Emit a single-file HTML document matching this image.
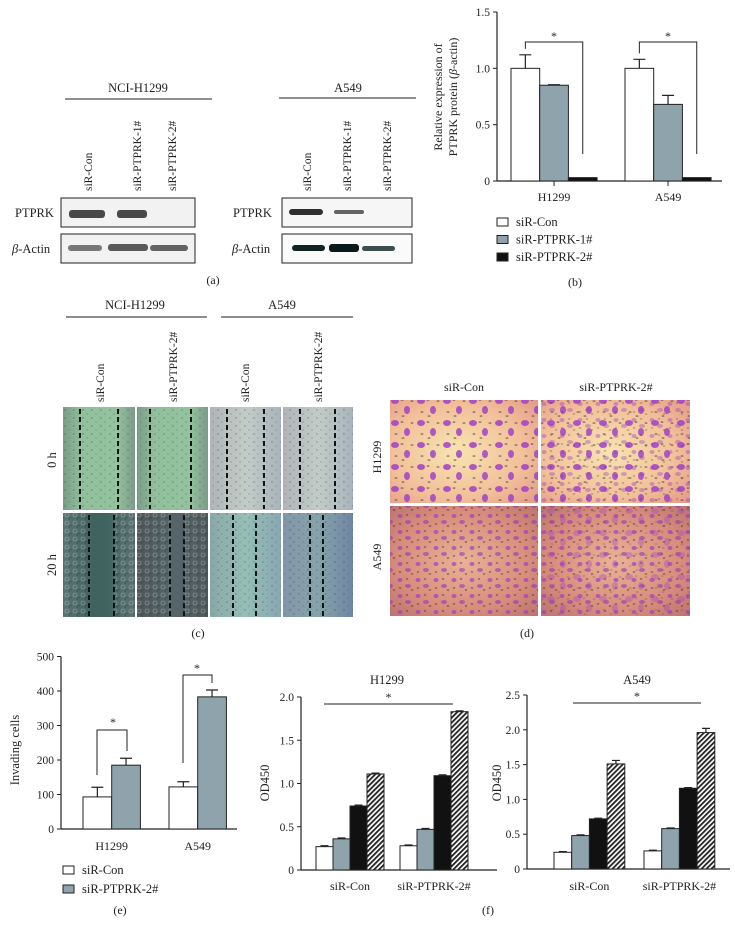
<!DOCTYPE html>
<html><head><meta charset="utf-8"><style>
html,body{margin:0;padding:0;background:#fff;}
svg{display:block;font-family:"Liberation Serif",serif;}
text{fill:#222;}
</style></head><body>
<svg id="fig" width="735" height="937" viewBox="0 0 735 937" xmlns="http://www.w3.org/2000/svg">
<defs>
<pattern id="hatch" patternUnits="userSpaceOnUse" width="3.5" height="3.5" patternTransform="rotate(45)">
<rect width="3.5" height="3.5" fill="#fff"/><rect width="1.8" height="3.5" fill="#222"/></pattern>
<linearGradient id="g-green" x1="0" x2="1"><stop offset="0" stop-color="#7a9c88"/><stop offset=".25" stop-color="#90c09c"/><stop offset=".75" stop-color="#92c29e"/><stop offset="1" stop-color="#7c9c8a"/></linearGradient>
<linearGradient id="g-gray" x1="0" x2="1"><stop offset="0" stop-color="#b0b4b8"/><stop offset=".5" stop-color="#c2ccc6"/><stop offset="1" stop-color="#a8b4bc"/></linearGradient>
<linearGradient id="g-dark1" x1="0" x2="1"><stop offset="0" stop-color="#5d7474"/><stop offset=".4" stop-color="#3f6460"/><stop offset=".6" stop-color="#3f6460"/><stop offset="1" stop-color="#5d7474"/></linearGradient>
<linearGradient id="g-dark2" x1="0" x2="1"><stop offset="0" stop-color="#4e5658"/><stop offset=".5" stop-color="#55666a"/><stop offset="1" stop-color="#4f595c"/></linearGradient>
<linearGradient id="g-teal" x1="0" x2="1"><stop offset="0" stop-color="#8aa8a8"/><stop offset=".5" stop-color="#95beb6"/><stop offset="1" stop-color="#88a8b4"/></linearGradient>
<linearGradient id="g-blue" x1="0" x2="1"><stop offset="0" stop-color="#8296a8"/><stop offset=".5" stop-color="#86a4aa"/><stop offset="1" stop-color="#6f86a4"/></linearGradient>
<radialGradient id="g-yel" cx=".45" cy=".5" r=".75"><stop offset="0" stop-color="#f8e4b0"/><stop offset=".6" stop-color="#f2c09a"/><stop offset="1" stop-color="#e49886"/></radialGradient>
<radialGradient id="g-org" cx=".5" cy=".5" r=".75"><stop offset="0" stop-color="#eab296"/><stop offset=".6" stop-color="#d88c7c"/><stop offset="1" stop-color="#b86e6c"/></radialGradient>
<pattern id="cells" patternUnits="userSpaceOnUse" width="26" height="22">
<ellipse cx="5" cy="5" rx="4" ry="3" fill="#a040c8" opacity=".85"/><ellipse cx="17" cy="14" rx="3" ry="4" fill="#9a3cc8" opacity=".8"/>
<ellipse cx="12" cy="4" rx="1.5" ry=".8" fill="#333" opacity=".6"/><ellipse cx="22" cy="5" rx="1.5" ry=".8" fill="#333" opacity=".6"/><ellipse cx="6" cy="16" rx="1.5" ry=".8" fill="#333" opacity=".6"/><ellipse cx="13" cy="20" rx="1.5" ry=".8" fill="#333" opacity=".6"/></pattern>
<pattern id="cells2" patternUnits="userSpaceOnUse" width="18" height="16">
<ellipse cx="4" cy="4" rx="2.5" ry="2" fill="#9a40c0" opacity=".7"/><ellipse cx="12" cy="10" rx="3" ry="2" fill="#8c3cb8" opacity=".6"/>
<ellipse cx="11" cy="3" rx="1.3" ry=".7" fill="#333" opacity=".6"/><ellipse cx="4" cy="12" rx="1.3" ry=".7" fill="#333" opacity=".6"/><ellipse cx="16" cy="14" rx="1.3" ry=".7" fill="#333" opacity=".6"/></pattern>
<pattern id="specks" patternUnits="userSpaceOnUse" width="9" height="8">
<circle cx="2" cy="2" r=".7" fill="#334" opacity=".5"/><circle cx="6" cy="6" r=".6" fill="#334" opacity=".4"/></pattern>
<pattern id="crowd" patternUnits="userSpaceOnUse" width="8" height="8">
<circle cx="3" cy="3" r="2" fill="none" stroke="#c8d4d0" stroke-width=".6" opacity=".6"/><circle cx="7" cy="7" r="1.5" fill="none" stroke="#223" stroke-width=".6" opacity=".5"/></pattern>
</defs>

<!-- Panel a -->
<g font-size="11.5">
<text x="138" y="92" text-anchor="middle" font-size="12.5">NCI-H1299</text>
<line x1="65" y1="99" x2="212" y2="99" stroke="#222"/>
<text x="348" y="92" text-anchor="middle" font-size="12.5">A549</text>
<line x1="279" y1="98" x2="416" y2="98" stroke="#222"/>
<text transform="translate(92,191) rotate(-90)">siR-Con</text>
<text transform="translate(141,191) rotate(-90)">siR-PTPRK-1#</text>
<text transform="translate(176,191) rotate(-90)">siR-PTPRK-2#</text>
<text transform="translate(311,191) rotate(-90)">siR-Con</text>
<text transform="translate(351,191) rotate(-90)">siR-PTPRK-1#</text>
<text transform="translate(391,191) rotate(-90)">siR-PTPRK-2#</text>
<text x="15" y="217" font-size="12.5">PTPRK</text>
<text x="12" y="253" font-size="12.5"><tspan font-style="italic">β</tspan>-Actin</text>
<text x="233" y="217" font-size="12.5">PTPRK</text>
<text x="232" y="253" font-size="12.5"><tspan font-style="italic">β</tspan>-Actin</text>
<g><rect x="61" y="198" width="134" height="29" fill="#f2f2f2" stroke="#222"/>
<rect x="69" y="210" width="36" height="8" rx="3" fill="#2a2a2a" opacity=".85"/><rect x="117" y="210" width="30" height="8" rx="3" fill="#2a2a2a" opacity=".85"/></g>
<g><rect x="61" y="234" width="134" height="29" fill="#f2f2f2" stroke="#222"/>
<rect x="68" y="245" width="34" height="6" rx="3" fill="#444" opacity=".7"/><rect x="108" y="244" width="40" height="7" rx="3" fill="#333" opacity=".8"/><rect x="150" y="245" width="38" height="6" rx="3" fill="#333" opacity=".75"/></g>
<g><rect x="282" y="198" width="130" height="29" fill="#f6f6f6" stroke="#222"/>
<rect x="289" y="209" width="34" height="6" rx="3" fill="#1a1a1a" opacity=".9"/><rect x="334" y="210" width="30" height="4" rx="2" fill="#333" opacity=".75"/></g>
<g><rect x="282" y="234" width="130" height="29" fill="#fafafa" stroke="#222"/>
<rect x="292" y="245" width="33" height="6" rx="3" fill="#102424"/><rect x="329" y="244" width="30" height="8" rx="3" fill="#0a1a1a"/><rect x="362" y="246" width="33" height="5" rx="2.5" fill="#1a3030" opacity=".85"/></g>
<text x="213" y="284" text-anchor="middle" font-size="12">(a)</text>
</g>

<!-- Panel b -->
<g id="pb" font-size="11">
<text transform="translate(442,97) rotate(-90)" text-anchor="middle" font-size="12">Relative expression of</text>
<text transform="translate(457,97) rotate(-90)" text-anchor="middle" font-size="12">PTPRK protein (<tspan font-style="italic">β</tspan>-actin)</text>
<text x="575" y="286" text-anchor="middle" font-size="12">(b)</text>
</g>

<!-- Panel c -->
<g font-size="11.5">
<text x="135" y="309" text-anchor="middle" font-size="12.5">NCI-H1299</text>
<line x1="66" y1="317" x2="207" y2="317" stroke="#666" stroke-width="1.5"/>
<text x="282" y="309" text-anchor="middle" font-size="12.5">A549</text>
<line x1="221" y1="317" x2="353" y2="317" stroke="#666" stroke-width="1.5"/>
<text transform="translate(104,402) rotate(-90)">siR-Con</text>
<text transform="translate(177,402) rotate(-90)">siR-PTPRK-2#</text>
<text transform="translate(249,402) rotate(-90)">siR-Con</text>
<text transform="translate(322,402) rotate(-90)">siR-PTPRK-2#</text>
<text transform="translate(56,460) rotate(-90)" text-anchor="middle" font-size="12.5">0 h</text>
<text transform="translate(56,565) rotate(-90)" text-anchor="middle" font-size="12.5">20 h</text>
<g><rect x="63" y="407" width="72" height="103" fill="url(#g-green)"/><rect x="63" y="407" width="72" height="103" fill="url(#specks)"/></g>
<g><rect x="137" y="407" width="71" height="103" fill="url(#g-green)"/><rect x="137" y="407" width="71" height="103" fill="url(#specks)"/></g>
<g><rect x="210" y="407" width="71" height="103" fill="url(#g-gray)"/><rect x="210" y="407" width="71" height="103" fill="url(#specks)"/></g>
<g><rect x="283" y="407" width="70" height="103" fill="url(#g-gray)"/><rect x="283" y="407" width="70" height="103" fill="url(#specks)"/></g>
<g><rect x="63" y="513" width="72" height="104" fill="url(#g-dark1)"/><rect x="63" y="513" width="26" height="104" fill="url(#crowd)"/><rect x="114" y="513" width="21" height="104" fill="url(#crowd)"/></g>
<g><rect x="137" y="513" width="71" height="104" fill="url(#g-dark2)"/><rect x="137" y="513" width="33" height="104" fill="url(#crowd)"/><rect x="184" y="513" width="24" height="104" fill="url(#crowd)"/></g>
<g><rect x="210" y="513" width="71" height="104" fill="url(#g-teal)"/><rect x="210" y="513" width="71" height="104" fill="url(#specks)"/></g>
<g><rect x="283" y="513" width="70" height="104" fill="url(#g-blue)"/><rect x="283" y="513" width="70" height="104" fill="url(#specks)"/></g>
<g stroke="#111" stroke-width="2" stroke-dasharray="5,3">
<line x1="80" y1="409" x2="80" y2="509"/><line x1="118" y1="409" x2="118" y2="509"/>
<line x1="150" y1="409" x2="150" y2="509"/><line x1="191" y1="409" x2="191" y2="509"/>
<line x1="227" y1="409" x2="227" y2="509"/><line x1="264" y1="409" x2="264" y2="509"/>
<line x1="300" y1="409" x2="300" y2="509"/><line x1="335" y1="409" x2="335" y2="509"/>
<line x1="89" y1="515" x2="89" y2="616"/><line x1="114" y1="515" x2="114" y2="616"/>
<line x1="170" y1="515" x2="170" y2="616"/><line x1="184" y1="515" x2="184" y2="616"/>
<line x1="233" y1="515" x2="233" y2="616"/><line x1="256" y1="515" x2="256" y2="616"/>
<line x1="310" y1="515" x2="310" y2="616"/><line x1="323" y1="515" x2="323" y2="616"/></g>
<text x="198" y="637" text-anchor="middle" font-size="12">(c)</text>
</g>

<!-- Panel d -->
<g font-size="12">
<text x="464" y="391" text-anchor="middle">siR-Con</text>
<text x="616" y="391" text-anchor="middle">siR-PTPRK-2#</text>
<text transform="translate(381,457) rotate(-90)" text-anchor="middle">H1299</text>
<text transform="translate(381,557) rotate(-90)" text-anchor="middle">A549</text>
<g><rect x="390" y="400" width="148" height="103" fill="url(#g-yel)"/><rect x="390" y="400" width="148" height="103" fill="url(#cells)"/></g>
<g><rect x="541" y="400" width="149" height="103" fill="url(#g-yel)"/><rect x="541" y="400" width="149" height="103" fill="url(#cells)"/><rect x="541" y="400" width="149" height="103" fill="url(#cells2)" opacity=".6"/></g>
<g><rect x="390" y="506" width="148" height="110" fill="url(#g-org)"/><rect x="390" y="506" width="148" height="110" fill="url(#cells2)"/></g>
<g><rect x="541" y="506" width="149" height="110" fill="url(#g-org)"/><rect x="541" y="506" width="149" height="110" fill="url(#cells2)"/><rect x="541" y="506" width="149" height="110" fill="url(#cells)" opacity=".4"/></g>
<text x="527" y="637" text-anchor="middle" font-size="12">(d)</text>
</g>

<!-- Panel e -->
<g id="pe" font-size="11">
<text transform="translate(19,750) rotate(-90)" text-anchor="middle" font-size="12.5">Invading cells</text>
<text x="120" y="914" text-anchor="middle" font-size="12">(e)</text>
</g>

<!-- Panel f -->
<g id="pf1" font-size="11">
<text x="387" y="684" text-anchor="middle" font-size="12.5">H1299</text>
<text transform="translate(269,783) rotate(-90)" text-anchor="middle" font-size="12.5">OD450</text>
</g>
<g id="pf2" font-size="11">
<text x="637" y="684" text-anchor="middle" font-size="12.5">A549</text>
<text transform="translate(501,783) rotate(-90)" text-anchor="middle" font-size="12.5">OD450</text>
</g>
<text x="488" y="914" text-anchor="middle" font-size="12">(f)</text>
</svg>
<script>
// Panel b data
const bCategories = ["H1299", "A549"];
const bSeriesNames = ["siR-Con", "siR-PTPRK-1#", "siR-PTPRK-2#"];
const bCon = [1.0, 1.0];
const bSi1 = [0.85, 0.68];
const bSi2 = [0.03, 0.03];
const bErrCon = [0.12, 0.08];
const bErrSi1 = [0.005, 0.08];
const bErrSi2 = [0, 0];
const bTicks = [0, 0.5, 1.0, 1.5];
const bTickLabels = ["0", "0.5", "1.0", "1.5"];
// Panel e data
const eCategories = ["H1299", "A549"];
const eSeriesNames = ["siR-Con", "siR-PTPRK-2#"];
const eCon = [93, 122];
const eSi = [185, 383];
const eErrCon = [28, 15];
const eErrSi = [20, 20];
const eTicks = [0, 100, 200, 300, 400, 500];
// Panel f data
const fCategories = ["siR-Con", "siR-PTPRK-2#"];
const fH1299Day1 = [0.27, 0.28];
const fH1299Day2 = [0.36, 0.47];
const fH1299Day3 = [0.74, 1.09];
const fH1299Day4 = [1.11, 1.83];
const fH1299Err = [0.01, 0.01];
const fH1299Ticks = [0, 0.5, 1.0, 1.5, 2.0];
const fH1299TickLabels = ["0", "0.5", "1.0", "1.5", "2.0"];
const fA549Day1 = [0.24, 0.26];
const fA549Day2 = [0.48, 0.58];
const fA549Day3 = [0.72, 1.16];
const fA549Day4 = [1.51, 1.96];
const fA549Err4 = [0.05, 0.06];
const fA549ErrSmall = [0.01, 0.01];
const fA549Ticks = [0, 0.5, 1.0, 1.5, 2.0, 2.5];
const fA549TickLabels = ["0", "0.5", "1.0", "1.5", "2.0", "2.5"];

const NS = "http://www.w3.org/2000/svg";
function mk(parent, tag, attrs, txt) {
  const el = document.createElementNS(NS, tag);
  for (const k in attrs) el.setAttribute(k, attrs[k]);
  if (txt !== undefined) el.textContent = txt;
  parent.appendChild(el);
  return el;
}
function axes(g, x0, x1, y, ticks, labels, fs) {
  const ax = mk(g, "line", {x1: x0, y1: y(ticks[ticks.length-1]), x2: x0, y2: y(0), stroke: "#222", "stroke-width": 1.2});
  
  
  const xa = mk(g, "line", {x1: x0, y1: y(0), x2: x1, y2: y(0), stroke: "#222", "stroke-width": 1.2});
  
  
  ticks.forEach((t, i) => {
    const tk = mk(g, "line", {x1: x0 - 4, y1: y(t), x2: x0, y2: y(t), stroke: "#222"});
    
    
    const tl = mk(g, "text", {x: x0 - 7, y: y(t) + 4, "text-anchor": "end", "font-size": fs}, labels[i]);
    
    
  });
}
function bar(g, x, w, v, y, fill, name) {
  const r = mk(g, "rect", {x: x, y: y(v), width: w, height: y(0) - y(v), fill: fill, stroke: "#222", "stroke-width": 1});
  
  
}
function err(g, cx, v, e, y, hw) {
  if (e <= 0) return;
  const p = mk(g, "path", {d: `M${cx},${y(v)}V${y(v+e)}M${cx-hw},${y(v+e)}H${cx+hw}`, stroke: "#222", "stroke-width": 1.2, fill: "none"});
  
  
}
function bracket(g, x1, x2, top, yl, yr, sx, sy) {
  const p = mk(g, "path", {d: `M${x1},${yl}V${top}H${x2}V${yr}`, stroke: "#222", fill: "none"});
  
  
  const s = mk(g, "text", {x: sx, y: sy, "text-anchor": "middle", "font-size": 12}, "*");
  
  
}
function legend(g, x, y0, dy, fills, names) {
  names.forEach((n, i) => {
    const r = mk(g, "rect", {x: x, y: y0 + i*dy, width: 11, height: 8, fill: fills[i], stroke: "#222"});
    
    
    const t = mk(g, "text", {x: x + 19, y: y0 + i*dy + 8, "font-size": 12.5}, n);
    
    
  });
}

// Panel b
(function(){
  const g = document.getElementById("pb");
  const y = v => 181 - v * (169 / 1.5);
  axes(g, 497, 722, y, bTicks, bTickLabels, 11.5);
  const starts = [511, 625], w = 28.7;
  const fills = ["#fff", "#8fa3ad", "#111"];
  const series = [bCon, bSi1, bSi2], errs = [bErrCon, bErrSi1, bErrSi2];
  bCategories.forEach((c, i) => {
    series.forEach((s, j) => {
      bar(g, starts[i] + j*w, w, s[i], y, fills[j], "bar-" + c.toLowerCase() + "-" + j);
      err(g, starts[i] + j*w + w/2, s[i], errs[j][i], y, 6);
    });
    const cx = starts[i] + 1.5*w;
    const tk = mk(g, "line", {x1: cx, y1: y(0), x2: cx, y2: y(0) + 5, stroke: "#222"});
    
    
    const tl = mk(g, "text", {x: cx, y: 201, "text-anchor": "middle", "font-size": 12}, c);
    
    
    const x1 = starts[i] + w/2, x2 = starts[i] + 2.5*w;
    bracket(g, x1, x2, 42, y(bCon[i] + bErrCon[i]) - 6, 154, (x1 + x2)/2, 40);
  });
  legend(g, 497, 218, 17.5, fills, bSeriesNames);
})();

// Panel e
(function(){
  const g = document.getElementById("pe");
  const y = v => 829 - v * 0.345;
  axes(g, 61, 237, y, eTicks, eTicks.map(String), 11.5);
  const starts = [83, 169], w = 28.7;
  const fills = ["#fff", "#8fa3ad"];
  const series = [eCon, eSi], errs = [eErrCon, eErrSi];
  eCategories.forEach((c, i) => {
    series.forEach((s, j) => {
      bar(g, starts[i] + j*w, w, s[i], y, fills[j], "bar-" + c.toLowerCase() + "-" + j);
      err(g, starts[i] + j*w + w/2, s[i], errs[j][i], y, 6);
    });
    const tl = mk(g, "text", {x: starts[i] + w, y: 850, "text-anchor": "middle", "font-size": 12}, c);
    
    
  });
  bracket(g, 97, 127, 730, 775, 751, 113, 726);
  bracket(g, 183, 212, 675, 763, 683, 197, 672);
  legend(g, 63, 866, 19, fills, eSeriesNames);
})();

// Panel f
function fChart(id, x0, x1, y, ticks, labels, starts, w, series, errs, sig) {
  const g = document.getElementById(id);
  axes(g, x0, x1, y, ticks, labels, 11.5);
  const fills = ["#fff", "#8fa3ad", "#111", "url(#hatch)"];
  fCategories.forEach((c, i) => {
    series.forEach((s, j) => {
      bar(g, starts[i] + j*w, w, s[i], y, fills[j], "bar-" + (i === 0 ? "con" : "si") + "-day" + (j+1));
      err(g, starts[i] + j*w + w/2, s[i], errs[j][i], y, 4);
    });
    const tl = mk(g, "text", {x: starts[i] + 2*w, y: 890, "text-anchor": "middle", "font-size": 12}, c);
    
    
  });
  const l = mk(g, "line", {x1: sig[0], y1: sig[2], x2: sig[1], y2: sig[2], stroke: "#222"});
  
  
  const s = mk(g, "text", {x: (sig[0] + sig[1])/2, y: sig[2] - 3, "text-anchor": "middle", "font-size": 12}, "*");
  
  
}
fChart("pf1", 301, 497, v => 870 - v * 86.5, fH1299Ticks, fH1299TickLabels, [316, 400], 17,
  [fH1299Day1, fH1299Day2, fH1299Day3, fH1299Day4], [fH1299Err, fH1299Err, fH1299Err, fH1299Err], [324, 453, 704]);
fChart("pf2", 527, 730, v => 869 - v * 69.6, fA549Ticks, fA549TickLabels, [554, 644], 17.7,
  [fA549Day1, fA549Day2, fA549Day3, fA549Day4], [fA549ErrSmall, fA549ErrSmall, fA549ErrSmall, fA549Err4], [573, 701, 703]);
</script>
</body></html>
